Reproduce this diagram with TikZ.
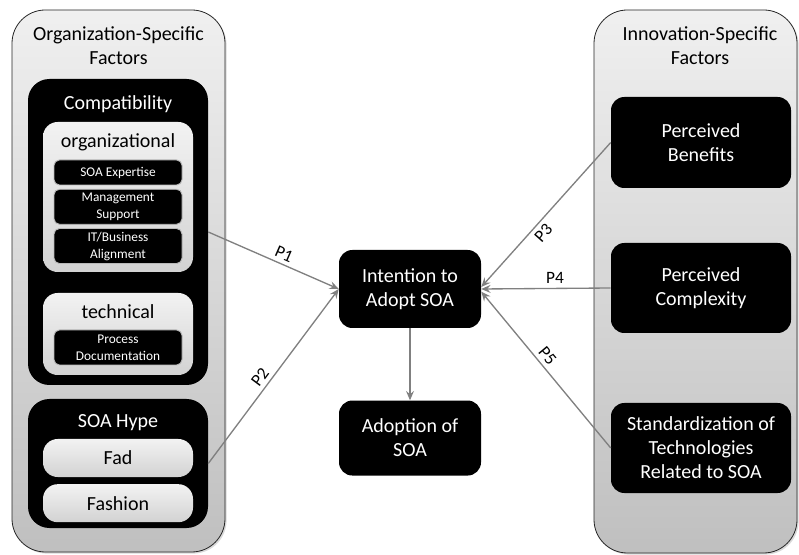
\documentclass[tikz,border=0pt]{standalone}
\usepackage{fontspec}
\setmainfont{Carlito}
\usetikzlibrary{arrows.meta,positioning,shadows}

\newcommand\largetxt{\fontsize{15}{18}\selectfont}
\newcommand\smalltxt{\fontsize{10}{12.75}\selectfont}
\newcommand\labeltxt{\fontsize{13}{15}\selectfont}

\tikzset{
  boxsize/.style 2 args={minimum width=#1*0.75pt, minimum height=#2*0.75pt, inner sep=0pt},
  factors/.style={draw=black!85, line width=0.6pt, rounded corners=25pt,
    top color=gray!12, bottom color=gray!50,
    drop shadow={opacity=0.3, shadow xshift=1.2pt, shadow yshift=-1.2pt}},
  group/.style={fill=black, rounded corners=16pt},
  subgroup/.style={rounded corners=11pt, top color=gray!10, bottom color=gray!35},
  item/.style={fill=black, draw=gray!55, line width=0.7pt, rounded corners=4pt,
    text=white, align=center, font=\smalltxt},
  construct/.style={fill=black, rounded corners=10pt, text=white, align=center, font=\largetxt},
  heading/.style={font=\largetxt, align=center},
  link/.style={draw=gray, line width=1pt, -{Stealth[length=7pt, width=6pt, inset=2.5pt]}},
  plabel/.style={font=\labeltxt, inner sep=3pt}
}

\begin{document}
\begin{tikzpicture}[x=0.75pt, y=-0.75pt]
\useasboundingbox (0,0) rectangle (799,555);

% organization-specific factors
\node[factors, boxsize={213}{542}] (orgf) at (118.5,281) {};
\node[heading] (orgtitle) at (118.5,46) {Organization-Specific\\Factors};

\node[group, boxsize={180}{306}] (compat) at (118,232) {};
\node[heading, text=white] (compattitle) at (118,104) {Compatibility};
\node[subgroup, boxsize={150}{150}] (orgl) at (118,197) {};
\node[heading] (orgltitle) at (118,142) {organizational};
\node[item, boxsize={128}{25}] (expert) at (118,172.5) {SOA Expertise};
\node[item, boxsize={128}{35}, below=2.5pt of expert] (mgmt) {Management\\Support};
\node[item, boxsize={128}{35}, below=2.5pt of mgmt] (align) {IT/Business\\Alignment};
\node[subgroup, boxsize={150}{82}] (techl) at (118,334) {};
\node[heading] (techltitle) at (118,312) {technical};
\node[item, boxsize={128}{35}] (procdoc) at (118,347.5) {Process\\Documentation};

\node[group, boxsize={180}{129}] (hype) at (118,463.5) {};
\node[heading, text=white] (hypetitle) at (118,423) {SOA Hype};
\node[subgroup, heading, boxsize={150}{38}] (fad) at (118,458) {Fad};
\node[subgroup, heading, boxsize={150}{38}, below=5pt of fad] (fashion) {Fashion};

% innovation-specific factors
\node[factors, boxsize={203}{543}] (innof) at (695.5,281.5) {};
\node[heading] (innotitle) at (700,46) {Innovation-Specific\\Factors};
\node[construct, boxsize={180}{91}] (benefit) at (701,142.5) {Perceived\\Benefits};
\node[construct, boxsize={180}{90}] (complex) at (701,288) {Perceived\\Complexity};
\node[construct, boxsize={180}{90}] (standard) at (701,448) {Standardization of\\Technologies\\Related to SOA};

% adoption
\node[construct, boxsize={142}{78}] (intent) at (410,289) {Intention to\\Adopt SOA};
\node[construct, boxsize={142}{75}, below=54pt of intent] (adopt) {Adoption of\\SOA};

% propositions
\draw[link] (compat.east) -- node[plabel, above, sloped, pos=0.55] {P1} (intent.west);
\draw[link] (hype.east) -- node[plabel, above, sloped, pos=0.46] {P2} (intent.west);
\draw[link] (benefit.west) -- node[plabel, below, sloped, pos=0.58] {P3} ([yshift=1.5pt]intent.east);
\draw[link] (complex.west) -- node[plabel, above, pos=0.43] {P4} (intent.east);
\draw[link] (standard.west) -- node[plabel, above, sloped, pos=0.55] {P5} ([yshift=-2pt]intent.east);
\draw[link] (intent) -- (adopt);

\end{tikzpicture}
\end{document}
